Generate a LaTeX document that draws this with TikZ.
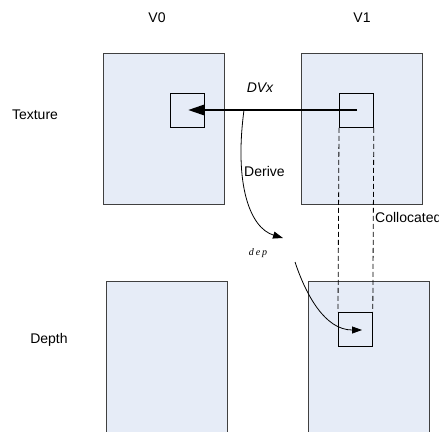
\documentclass[tikz,border=0pt]{standalone}
\usepackage{fontspec}
\setmainfont{Liberation Sans}
\newfontfamily\depfont[LetterSpace=18]{Liberation Serif}
\usetikzlibrary{arrows.meta}
\definecolor{fillblue}{HTML}{E6ECF7}
\definecolor{edgegray}{HTML}{404040}
\begin{document}
\begin{tikzpicture}[x=1pt,y=-1pt,
  big/.style={draw=edgegray,fill=fillblue,line width=0.9pt,anchor=north west,inner sep=0pt,minimum width=121pt},
  small/.style={draw=black,line width=0.8pt,anchor=north west,inner sep=0pt,minimum width=34pt,minimum height=34pt},
  lbl/.style={font=\fontsize{14}{16}\selectfont,inner sep=0pt},
  thinarrow/.style={line width=0.8pt,-{Triangle[length=10pt,width=7pt]}},
  dashline/.style={line width=0.8pt,dash pattern=on 5pt off 3pt}]
\clip (0,0) rectangle (439,431);
\fill[white] (0,0) rectangle (439,431);
\node[big,minimum height=151pt] (tl) at (103,53) {};
\node[big,minimum height=151pt] (tr) at (301,53) {};
\node[big,minimum height=170pt] (bl) at (106,281) {};
\node[big,minimum height=170pt] (br) at (308,281) {};
\node[small] (s0) at (170,93) {};
\node[small] (s1) at (339,93) {};
\node[small] (s2) at (338,312) {};
\node[lbl] (v0) at (157,18) {V0};
\node[lbl] (v1) at (362,18) {V1};
\node[lbl] (tex) at (35,115) {Texture};
\node[lbl] (dep) at (49,340) {Depth};
\node[lbl,font=\fontsize{14}{16}\selectfont\itshape] (dvx) at (260,88) {DVx};
\node[lbl,anchor=west] (der) at (244,171) {Derive};
\node[lbl,anchor=west] (col) at (375,217) {Collocated};
\node[inner sep=0pt,font=\depfont\itshape\fontsize{10}{12}\selectfont] (dp) at (258,253) {dep};
\coordinate (a0) at (357,110);
\coordinate (a1) at (188,110);
\coordinate (c0) at (244,110);
\coordinate (c1) at (283,238);
\coordinate (d0) at (295,262);
\coordinate (d1) at (362,330);
\draw[dashline] (s1.south west) -- (s2.north west);
\draw[dashline] (s1.south east) -- (s2.north east);
\draw[line width=2.6pt,-{Triangle[length=16pt,width=10pt]}] (a0) -- (a1);
\draw[thinarrow] (c0) .. controls (234,185) and (250,228) .. (c1);
\draw[thinarrow] (d0) .. controls (306,295) and (325,330) .. (d1);
\end{tikzpicture}
\end{document}
